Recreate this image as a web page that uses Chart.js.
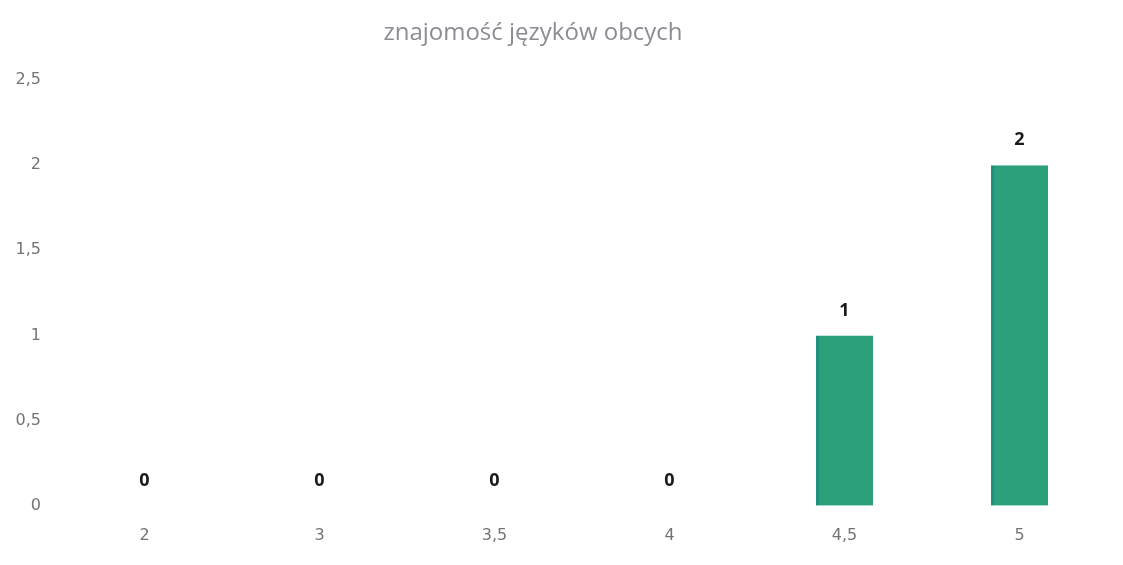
<!DOCTYPE html>
<html>
<head>
<meta charset="utf-8">
<script src="https://cdn.jsdelivr.net/npm/chart.js@4/dist/chart.umd.min.js"></script>
<style>
html,body{margin:0;padding:0;background:#fff;}
#wrap{width:1123px;height:565px;}
</style>
</head>
<body>
<div id="wrap"><canvas id="c" width="1123" height="565"></canvas></div>
<script>
const categories = ['2', '3', '3,5', '4', '4,5', '5'];
const values = [0, 0, 0, 0, 1, 2];
const yTicks = [0, 0.5, 1, 1.5, 2, 2.5];
const chartTitle = 'znajomość języków obcych';

const fmt = v => String(v).replace('.', ',');

const valueLabels = {
  id: 'valueLabels',
  afterDatasetsDraw(chart) {
    const ctx = chart.ctx;
    const meta = chart.getDatasetMeta(0);
    ctx.save();
    ctx.font = 'bold 18px "Open Sans", "DejaVu Sans", sans-serif';
    ctx.fillStyle = '#1a1a1a';
    ctx.textAlign = 'center';
    ctx.textBaseline = 'middle';
    meta.data.forEach((bar, i) => {
      ctx.fillText(fmt(values[i]), bar.x, bar.y - 25);
    });
    ctx.restore();
  }
};

const titlePlugin = {
  id: 'titlePlugin',
  afterDraw(chart) {
    const ctx = chart.ctx;
    ctx.save();
    ctx.font = '24px "Open Sans", "DejaVu Sans", sans-serif';
    ctx.fillStyle = '#8c8c94';
    ctx.textAlign = 'center';
    ctx.textBaseline = 'middle';
    ctx.fillText(chartTitle, 533, 33);
    ctx.restore();
  }
};

new Chart(document.getElementById('c'), {
  type: 'bar',
  data: {
    labels: categories,
    datasets: [{
      data: values,
      backgroundColor: '#2c9f7b',
      borderColor: '#1f8f7f',
      borderWidth: {left: 3, right: 0, top: 0, bottom: 0},
      barPercentage: 0.326,
      categoryPercentage: 1
    }]
  },
  options: {
    responsive: false,
    animation: false,
    layout: {padding: {left: 0, right: 16, top: 80, bottom: 0}},
    plugins: {
      legend: {display: false},
      tooltip: {enabled: false},
      title: {display: false}
    },
    scales: {
      x: {
        grid: {display: false, drawTicks: false},
        border: {display: false},
        ticks: {color: '#747474', padding: 20, font: {family: '"DejaVu Sans", sans-serif', size: 16, weight: 'normal'}}
      },
      y: {
        min: 0, max: 2.5,
        afterFit(scale) { scale.width = 57; },
        afterBuildTicks(scale) { scale.ticks = yTicks.map(v => ({value: v})); },
        grid: {display: false, drawTicks: false},
        border: {display: false},
        ticks: {
          color: '#747474', padding: 16,
          font: {family: '"DejaVu Sans", sans-serif', size: 16, weight: 'normal'},
          callback: v => fmt(v)
        }
      }
    }
  },
  plugins: [valueLabels, titlePlugin]
});
</script>
</body>
</html>
